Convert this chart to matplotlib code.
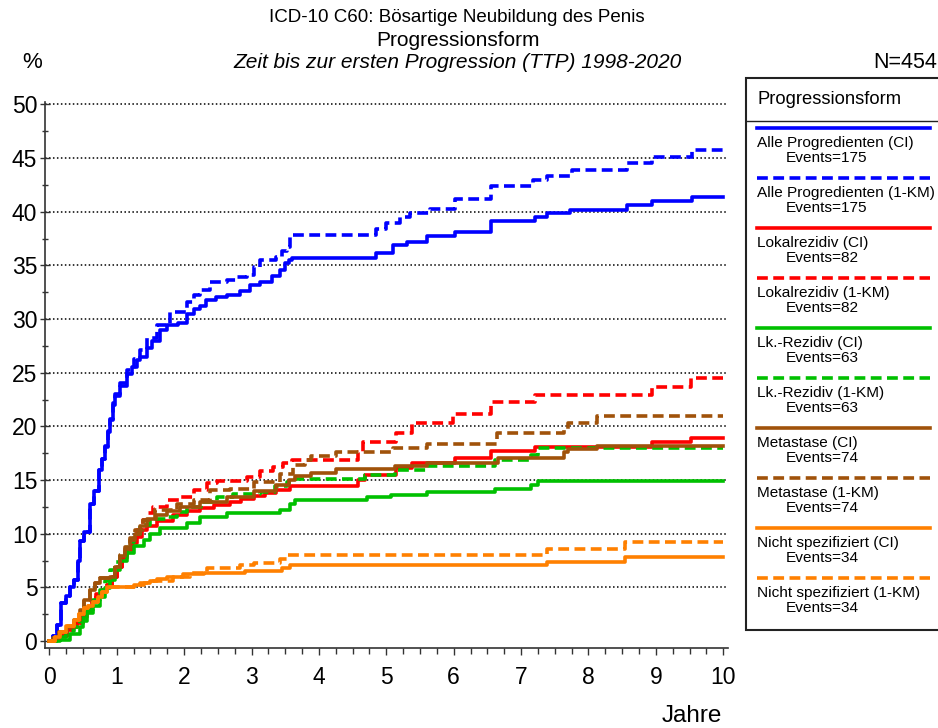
import matplotlib
matplotlib.use("Agg")
import matplotlib.pyplot as plt
from matplotlib.lines import Line2D
from matplotlib.patches import Rectangle
from matplotlib.ticker import MultipleLocator

plt.rcParams['font.family'] = ['Liberation Sans', 'DejaVu Sans']

# step points (Jahre, %)
alle_ci_t = [0, 0.06, 0.12, 0.18, 0.25, 0.3, 0.36, 0.42, 0.46, 0.52, 0.6, 0.66, 0.73, 0.78, 0.83, 0.87, 0.9, 0.95, 0.98, 1.05,
             1.15, 1.22, 1.3, 1.35, 1.45, 1.52, 1.64, 1.74, 1.91, 2.04, 2.15, 2.24, 2.33, 2.48, 2.63, 2.83, 2.98, 3.13, 3.3, 3.42,
             3.5, 3.55, 3.6, 4.85, 5.1, 5.3, 5.6, 6.02, 6.56, 7.2, 7.38, 7.73, 8.57, 8.94, 9.53, 10]
alle_ci_y = [0, 0.5, 1.5, 3.5, 4.2, 5.0, 5.7, 7.5, 9.3, 10.2, 12.8, 14.0, 15.9, 17.0, 18.1, 19.5, 20.6, 22.0, 22.8, 23.8,
             24.9, 25.5, 26.2, 26.5, 27.3, 28.0, 29.0, 29.45, 29.6, 30.5, 30.9, 31.2, 31.8, 32.1, 32.2, 32.6, 33.2, 33.5, 34.0, 34.6,
             35.2, 35.5, 35.7, 36.2, 36.9, 37.2, 37.7, 38.1, 39.1, 39.5, 39.85, 40.2, 40.6, 41.0, 41.4, 41.4]

alle_km_t = [0, 0.06, 0.12, 0.18, 0.25, 0.3, 0.36, 0.42, 0.46, 0.52, 0.6, 0.66, 0.73, 0.78, 0.83, 0.87, 0.9, 0.95, 0.98, 1.05,
             1.15, 1.25, 1.35, 1.45, 1.6, 1.79, 2.04, 2.15, 2.24, 2.38, 2.63, 2.78, 2.93, 3.03, 3.13, 3.37, 3.45, 3.52, 3.57, 4.85,
             5.0, 5.2, 5.35, 5.65, 6.02, 6.56, 7.18, 7.38, 7.75, 8.57, 8.94, 9.53, 10]
alle_km_y = [0, 0.5, 1.5, 3.5, 4.2, 5.0, 5.7, 7.5, 9.3, 10.2, 12.8, 14.0, 15.9, 17.0, 18.2, 19.6, 20.7, 22.2, 23.0, 24.0,
             25.3, 26.3, 27.1, 28.2, 29.45, 30.7, 31.6, 32.2, 32.7, 33.5, 33.6, 33.95, 34.1, 34.9, 35.5, 35.8, 36.3, 36.75, 37.8, 38.4,
             39.0, 39.5, 39.85, 40.3, 41.2, 42.4, 43.0, 43.3, 43.9, 44.5, 45.1, 45.8, 45.8]

lokal_ci_t = [0, 0.06, 0.15, 0.26, 0.35, 0.41, 0.5, 0.56, 0.63, 0.7, 0.78, 0.85, 0.93, 1.0, 1.08, 1.15, 1.22, 1.3, 1.37, 1.45,
              1.6, 1.84, 2.05, 2.23, 2.45, 2.68, 2.85, 3.03, 3.2, 3.37, 3.57, 4.58, 4.68, 5.15, 5.38, 6.02, 6.56, 7.21, 8.94, 9.52, 10]
lokal_ci_y = [0, 0.1, 0.5, 1.0, 1.3, 1.66, 2.2, 2.9, 3.6, 4.4, 4.8, 5.2, 6.0, 6.9, 7.7, 8.5, 9.1, 9.7, 10.3, 10.7,
              11.2, 11.75, 12.1, 12.4, 12.7, 13.0, 13.2, 13.5, 13.8, 14.1, 14.4, 15.0, 15.5, 16.1, 16.6, 17.1, 17.7, 18.1, 18.5, 18.9, 18.9]

lokal_km_t = [0, 0.06, 0.15, 0.26, 0.35, 0.41, 0.5, 0.56, 0.63, 0.7, 0.78, 0.85, 0.93, 1.0, 1.08, 1.15, 1.22, 1.3, 1.39, 1.46,
              1.54, 1.74, 1.94, 2.14, 2.34, 2.49, 2.93, 3.13, 3.32, 3.47, 3.6, 4.58, 4.65, 5.15, 5.38, 5.99, 6.56, 7.21, 8.94, 9.52, 10]
lokal_km_y = [0, 0.1, 0.5, 1.0, 1.3, 1.66, 2.2, 2.9, 3.6, 4.4, 4.8, 5.2, 6.0, 6.9, 7.8, 8.7, 9.5, 10.3, 11.3, 11.9,
              12.5, 13.15, 13.45, 14.1, 14.7, 14.95, 15.3, 15.8, 16.25, 16.6, 16.87, 17.6, 18.5, 19.35, 20.3, 21.2, 22.3, 22.9, 23.7, 24.5, 24.5]

lk_ci_t = [0, 0.16, 0.3, 0.45, 0.5, 0.56, 0.65, 0.75, 0.82, 0.9, 0.97, 1.05, 1.15, 1.25, 1.4, 1.49, 1.64, 2.04, 2.23, 2.63,
           3.42, 3.57, 3.65, 4.71, 5.07, 5.6, 6.61, 7.15, 7.25, 10]
lk_ci_y = [0, 0.1, 0.7, 1.3, 1.9, 2.6, 3.3, 4.1, 4.9, 5.7, 6.6, 7.5, 8.2, 8.9, 9.4, 10.0, 10.5, 10.96, 11.6, 11.9,
           12.2, 12.8, 13.1, 13.4, 13.6, 13.9, 14.2, 14.5, 14.9, 14.9]

lk_km_t = [0, 0.11, 0.25, 0.36, 0.46, 0.56, 0.65, 0.75, 0.82, 0.9, 0.97, 1.05, 1.15, 1.25, 1.35, 1.49, 1.74, 1.9, 2.04, 2.25,
           2.49, 2.73, 3.13, 3.35, 3.52, 3.65, 4.68, 5.13, 5.6, 6.61, 7.15, 7.25, 10]
lk_km_y = [0, 0.4, 0.9, 1.3, 2.1, 2.9, 3.8, 4.75, 5.6, 6.6, 7.4, 8.2, 9.2, 10.0, 10.8, 11.4, 11.6, 12.0, 12.5, 13.0,
           13.45, 13.7, 13.9, 14.4, 14.85, 15.1, 15.5, 15.95, 16.3, 16.87, 17.35, 18.0, 18.0]

meta_ci_t = [0, 0.06, 0.15, 0.26, 0.36, 0.45, 0.52, 0.6, 0.68, 0.75, 0.9, 0.97, 1.05, 1.12, 1.2, 1.27, 1.34, 1.45, 1.59, 1.75,
             1.94, 2.23, 2.63, 3.03, 3.37, 3.55, 3.65, 3.89, 4.26, 5.13, 5.6, 6.65, 7.63, 7.7, 8.12, 10]
meta_ci_y = [0, 0.3, 0.8, 1.3, 2.0, 2.9, 3.8, 4.75, 5.4, 5.85, 6.0, 6.9, 7.9, 8.6, 9.4, 10.0, 10.7, 11.4, 11.7, 12.1,
             12.5, 12.98, 13.45, 14.0, 14.55, 15.0, 15.4, 15.7, 16.0, 16.3, 16.6, 17.1, 17.6, 17.9, 18.2, 18.2]

meta_km_t = [0, 0.06, 0.15, 0.26, 0.36, 0.45, 0.52, 0.6, 0.68, 0.75, 0.9, 0.97, 1.05, 1.12, 1.2, 1.27, 1.39, 1.57, 1.89, 2.14,
             2.39, 2.68, 3.03, 3.42, 3.62, 3.8, 3.89, 4.26, 5.1, 5.6, 6.64, 7.63, 7.7, 8.12, 10]
meta_km_y = [0, 0.3, 0.8, 1.3, 2.0, 2.9, 3.8, 4.75, 5.4, 5.85, 6.0, 7.0, 8.0, 8.8, 9.6, 10.3, 11.3, 12.2, 12.8, 13.15,
             14.1, 14.2, 14.85, 15.6, 16.4, 16.87, 17.2, 17.6, 17.95, 18.4, 19.35, 19.8, 20.3, 20.96, 20.96]

nspez_ci_t = [0, 0.08, 0.16, 0.25, 0.36, 0.44, 0.51, 0.58, 0.65, 0.72, 0.78, 0.85, 1.25, 1.35, 1.49, 1.6, 1.74, 1.99, 2.3, 2.9,
              3.45, 3.57, 7.38, 8.54, 10]
nspez_ci_y = [0, 0.4, 0.87, 1.4, 1.96, 2.5, 3.05, 3.3, 3.66, 4.1, 4.6, 5.0, 5.2, 5.4, 5.6, 5.8, 6.0, 6.2, 6.35, 6.5,
              6.8, 7.1, 7.4, 7.8, 7.8]

nspez_km_t = [0, 0.08, 0.16, 0.25, 0.36, 0.44, 0.51, 0.58, 0.65, 0.72, 0.78, 0.85, 1.25, 1.4, 1.54, 1.83, 2.09, 2.34, 2.83, 3.03,
              3.42, 3.52, 7.38, 8.54, 10]
nspez_km_y = [0, 0.4, 0.87, 1.4, 1.96, 2.5, 3.05, 3.3, 3.66, 4.1, 4.6, 5.0, 5.2, 5.4, 5.6, 6.0, 6.3, 6.8, 7.1, 7.3,
              7.6, 8.0, 8.6, 9.25, 9.25]

labels = ["Alle Progredienten (CI)", "Alle Progredienten (1-KM)", "Lokalrezidiv (CI)", "Lokalrezidiv (1-KM)",
          "Lk.-Rezidiv (CI)", "Lk.-Rezidiv (1-KM)", "Metastase (CI)", "Metastase (1-KM)",
          "Nicht spezifiziert (CI)", "Nicht spezifiziert (1-KM)"]
events = [175, 175, 82, 82, 63, 63, 74, 74, 34, 34]

series = [(alle_ci_t, alle_ci_y), (alle_km_t, alle_km_y), (lokal_ci_t, lokal_ci_y), (lokal_km_t, lokal_km_y),
          (lk_ci_t, lk_ci_y), (lk_km_t, lk_km_y), (meta_ci_t, meta_ci_y), (meta_km_t, meta_km_y),
          (nspez_ci_t, nspez_ci_y), (nspez_km_t, nspez_km_y)]
colors = ['#0000FF', '#0000FF', '#FF0000', '#FF0000', '#00C000', '#00C000',
          '#A0520A', '#A0520A', '#FF8000', '#FF8000']
dashed = (0, (3.0, 1.5))
styles = ['-', dashed] * 5
lw = 2.6

W, H = 938, 728
fig = plt.figure(figsize=(W / 100, H / 100), dpi=100)
ax = fig.add_axes([45 / W, 1 - 648 / H, (728 - 45) / W, (648 - 102) / H])

for (t, y), c, ls in zip(series, colors, styles):
    ax.step(t, y, where='post', color=c, lw=lw, linestyle=ls, zorder=3)

for g in range(5, 55, 5):
    ax.axhline(g, color='black', lw=1.1, linestyle=(0, (1, 1.6)), zorder=1)

ax.set_xlim(-0.064, 10.07)
ax.set_ylim(-0.65, 50.23)
ax.xaxis.set_major_locator(MultipleLocator(1))
ax.xaxis.set_minor_locator(MultipleLocator(0.25))
ax.yaxis.set_major_locator(MultipleLocator(5))
ax.yaxis.set_minor_locator(MultipleLocator(2.5))
ax.tick_params(axis='x', which='major', direction='out', length=5, width=1, labelsize=16.5, pad=8, color='#333333')
ax.tick_params(axis='x', which='minor', direction='out', length=4, width=1, color='#333333')
ax.tick_params(axis='y', which='major', direction='inout', length=7, width=1, labelsize=16.5, pad=2, color='#333333')
ax.tick_params(axis='y', which='minor', direction='inout', length=5, width=1, color='#333333')
for s in ['top', 'right']:
    ax.spines[s].set_visible(False)
for s in ['left', 'bottom']:
    ax.spines[s].set_color('#333333')
    ax.spines[s].set_linewidth(1.2)

# titles and axis texts
fig.text(457 / W, 1 - 18 / H, "ICD-10 C60: Bösartige Neubildung des Penis", ha='center', va='center', fontsize=13.5)
fig.text(458 / W, 1 - 40 / H, "Progressionsform", ha='center', va='center', fontsize=15)
fig.text(458 / W, 1 - 62 / H, "Zeit bis zur ersten Progression (TTP) 1998-2020", ha='center', va='center',
         fontsize=15, style='italic')
fig.text(32 / W, 1 - 63 / H, "%", ha='center', va='center', fontsize=16)
fig.text(937 / W, 1 - 62 / H, "N=454", ha='right', va='center', fontsize=15.5)
fig.text(692 / W, 1 - 716 / H, "Jahre", ha='center', va='center', fontsize=17.5)

# legend box drawn by hand, it runs off the right edge
def fx(px):
    return px / W

def fy(py):
    return 1 - py / H

fig.add_artist(Rectangle((fx(746), fy(630)), fx(960) - fx(746), fy(78) - fy(630),
                         transform=fig.transFigure, facecolor='white', edgecolor='#222222', lw=1.5, zorder=5))
fig.text(fx(757), fy(99), "Progressionsform", ha='left', va='center', fontsize=13.2, zorder=6)
fig.add_artist(Line2D([fx(746), fx(940)], [fy(121), fy(121)], transform=fig.transFigure,
                      color='#222222', lw=1.0, zorder=6))
for i, (lab, ev, c, ls) in enumerate(zip(labels, events, colors, styles)):
    ly = 128.3 + 50 * i
    fig.add_artist(Line2D([fx(757), fx(930)], [fy(ly), fy(ly)], transform=fig.transFigure,
                          color=c, lw=lw, linestyle=ls, zorder=6))
    fig.text(fx(757), fy(ly + 15), lab, ha='left', va='center', fontsize=11.1, zorder=6)
    fig.text(fx(786), fy(ly + 29.5), "Events=%d" % ev, ha='left', va='center', fontsize=11.1, zorder=6)

fig.savefig("out.png", dpi=100)
